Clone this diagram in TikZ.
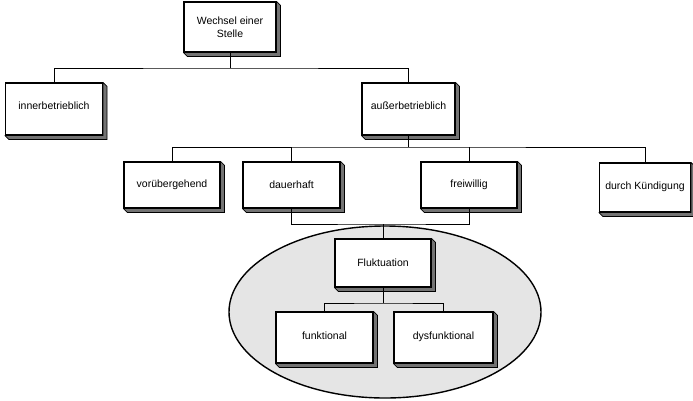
\documentclass[tikz,border=0pt]{standalone}
\usepackage{fontspec}
\setmainfont{Liberation Sans}
\begin{document}
\begin{tikzpicture}[x=1pt,y=-1pt,
  box/.style={draw=black, line width=1.1pt, fill=white, rectangle, inner sep=1pt,
    align=center, font=\fontsize{10.5}{13}\selectfont},
  shadowface/.style={fill=black!55, draw=black, line width=0.8pt, line join=round},
  conn/.style={draw=black, line width=0.9pt},
  blob/.style={draw=black, line width=1.4pt, fill=black!10}]
\useasboundingbox (0,0) rectangle (693,400);
% ellipse
\path[blob] (385,312) ellipse [x radius=156, y radius=86];
% boxes
\node[box, minimum width=92pt, minimum height=50pt] (top) at (230,27) {Wechsel einer\\Stelle};
\node[box, minimum width=97pt, minimum height=52pt] (inner) at (54,109) {\raisebox{6pt}{innerbetrieblich}};
\node[box, minimum width=93pt, minimum height=52pt] (ausser) at (408.5,109) {\raisebox{6pt}{außerbetrieblich}};
\node[box, minimum width=96pt, minimum height=46pt] (vor) at (172,185) {vorübergehend};
\node[box, minimum width=97pt, minimum height=46pt] (dauer) at (291.5,185) {dauerhaft};
\node[box, minimum width=96pt, minimum height=46pt] (frei) at (469,185) {freiwillig};
\node[box, minimum width=91pt, minimum height=49pt] (kuend) at (645,187.5) {\raisebox{4pt}{durch Kündigung}};
\node[box, minimum width=96pt, minimum height=48pt] (fluk) at (383,263) {Fluktuation};
\node[box, minimum width=97pt, minimum height=51pt] (funk) at (324.5,337.5) {\raisebox{4pt}{funktional}};
\node[box, minimum width=99pt, minimum height=51pt] (dysf) at (443.5,337.5) {\raisebox{4pt}{dysfunktional}};
% 3D sides
\foreach \n in {top,inner,ausser,vor,dauer,frei,kuend,fluk,funk,dysf}{
  \path[shadowface] (\n.north east) -- ++(4,4) -- ([xshift=4pt,yshift=-4pt]\n.south east)
    -- ([xshift=4pt,yshift=-4pt]\n.south west) -- (\n.south west) -- (\n.south east) -- cycle;
}
% connectors
\coordinate (busA) at (230,68);
\coordinate (busB) at (408.5,147);
\coordinate (busC) at (383,224);
\coordinate (busD) at (383,303);
\draw[conn] (top.south) -- (busA);
\draw[conn] (inner.north) |- (busA) -| (ausser.north);
\draw[conn] (ausser.south) -- (busB);
\draw[conn] (vor.north) |- (busB) -| (kuend.north);
\draw[conn] (dauer.north) -- (dauer.north |- busB);
\draw[conn] (frei.north) -- (frei.north |- busB);
\draw[conn] (dauer.south) |- (busC) -| (frei.south);
\draw[conn] (busC) -- (fluk.north);
\draw[conn] (fluk.south) -- (busD);
\draw[conn] (funk.north) |- (busD) -| (dysf.north);
\end{tikzpicture}
\end{document}
